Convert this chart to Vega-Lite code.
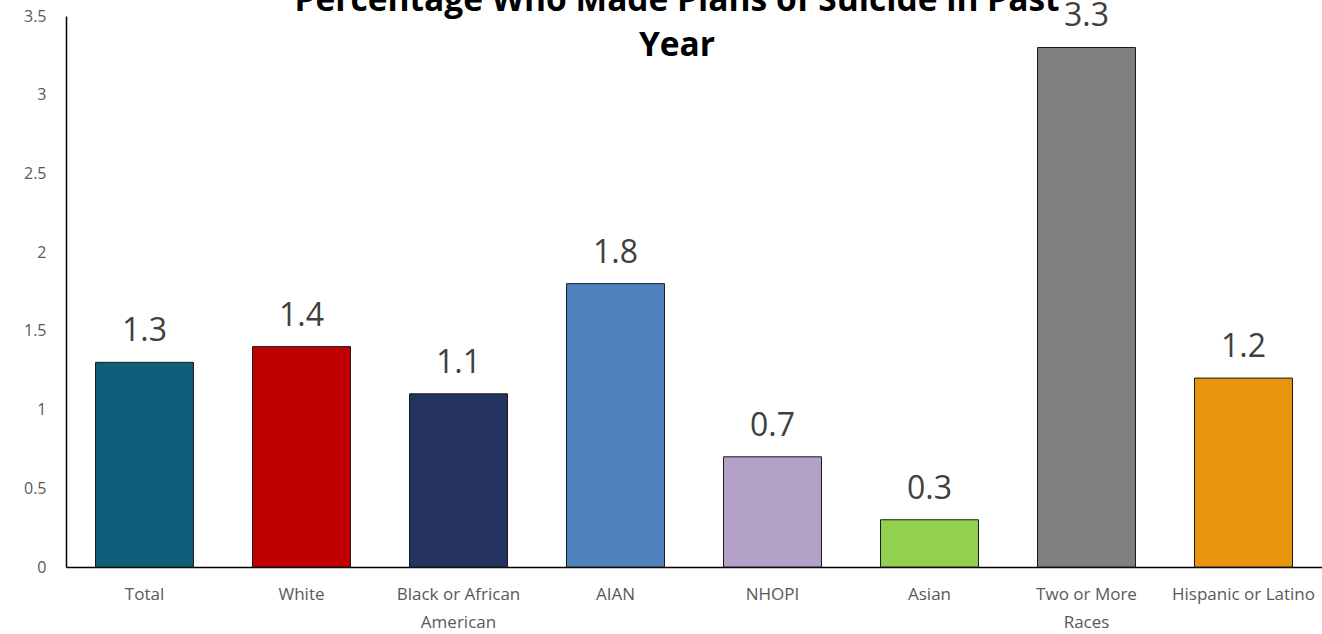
{
  "$schema": "https://vega.github.io/schema/vega-lite/v6.json",
  "autosize": "none",
  "width": 1256,
  "height": 551,
  "padding": {"left": 66, "top": 16, "right": 0, "bottom": 67},
  "background": "white",
  "config": {"view": {"stroke": null}, "font": "Open Sans"},
  "title": {
    "text": ["Percentage Who Made Plans of Suicide in Past", "Year"],
    "fontSize": 33.5,
    "fontWeight": "bold",
    "font": "Open Sans",
    "color": "#000000",
    "lineHeight": 45,
    "anchor": "middle",
    "offset": -63,
    "dx": -17
  },
  "data": {
    "values": [
      {"group": "Total", "value": 1.3, "color": "#0e5f7a"},
      {"group": "White", "value": 1.4, "color": "#c00000"},
      {"group": "Black or African American", "value": 1.1, "color": "#243360"},
      {"group": "AIAN", "value": 1.8, "color": "#4f81bd"},
      {"group": "NHOPI", "value": 0.7, "color": "#b3a2c7"},
      {"group": "Asian", "value": 0.3, "color": "#92d050"},
      {"group": "Two or More Races", "value": 3.3, "color": "#7f7f7f"},
      {"group": "Hispanic or Latino", "value": 1.2, "color": "#e8940c"}
    ]
  },
  "encoding": {
    "x": {
      "field": "group",
      "type": "nominal",
      "sort": null,
      "title": null,
      "scale": {"paddingInner": 0.376, "paddingOuter": 0.188},
      "axis": {
        "domainColor": "#000000",
        "domainWidth": 1.5,
        "ticks": false,
        "labelAngle": 0,
        "labelFontSize": 17,
        "labelColor": "#595959",
        "labelPadding": 19,
        "labelLineHeight": 28,
        "labelExpr": "datum.label == 'Black or African American' ? ['Black or African', 'American'] : datum.label == 'Two or More Races' ? ['Two or More', 'Races'] : datum.label",
        "labelLimit": 300
      }
    },
    "y": {
      "field": "value",
      "type": "quantitative",
      "title": null,
      "scale": {"domain": [0, 3.5], "nice": false},
      "axis": {
        "values": [0, 0.5, 1, 1.5, 2, 2.5, 3, 3.5],
        "format": "~g",
        "grid": false,
        "ticks": false,
        "domainColor": "#000000",
        "domainWidth": 1.5,
        "labelFontSize": 16,
        "labelColor": "#595959",
        "labelPadding": 20
      }
    }
  },
  "layer": [
    {
      "mark": {"type": "bar", "stroke": "#1a1a1a", "strokeWidth": 1},
      "encoding": {
        "color": {"field": "color", "type": "nominal", "scale": null}
      }
    },
    {
      "mark": {"type": "text", "baseline": "alphabetic", "dy": -21, "fontSize": 32, "color": "#404040", "font": "Open Sans"},
      "encoding": {
        "text": {"field": "value", "type": "quantitative", "format": ".1f"}
      }
    }
  ]
}
